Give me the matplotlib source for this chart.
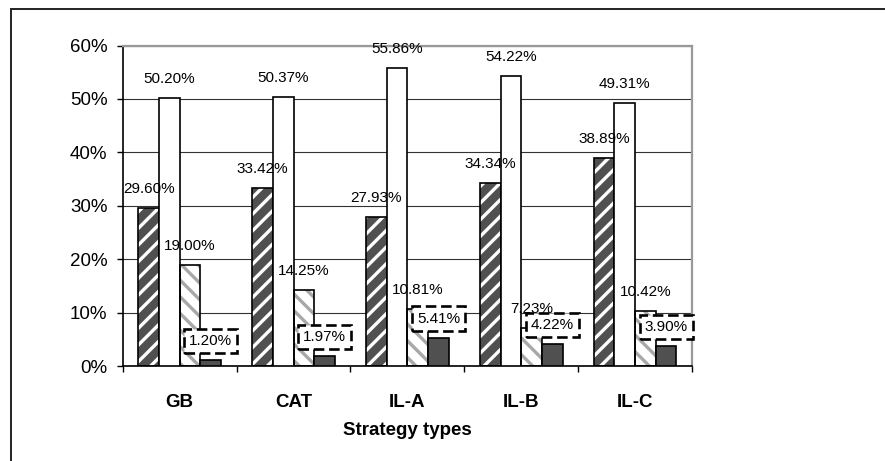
import numpy as np
import matplotlib.pyplot as plt
from matplotlib.patches import Rectangle

plt.rcParams['font.family'] = ['Liberation Sans', 'DejaVu Sans']
plt.rcParams['hatch.linewidth'] = 2.4

categories = ['GB', 'CAT', 'IL-A', 'IL-B', 'IL-C']
hatched_dark = [29.60, 33.42, 27.93, 34.34, 38.89]
plain_white = [50.20, 50.37, 55.86, 54.22, 49.31]
hatched_light = [19.00, 14.25, 10.81, 7.23, 10.42]
solid_dark = [1.20, 1.97, 5.41, 4.22, 3.90]

fig = plt.figure(figsize=(8.85, 4.61), dpi=100)
ax = fig.add_axes([0.1387, 0.2050, 0.6432, 0.6963])

# outer frame (open to the right and bottom)
fig.add_artist(Rectangle((11 / 885, -0.1), 1.2, 1 - 9 / 461 + 0.1,
                         transform=fig.transFigure, fill=False,
                         edgecolor='#222222', linewidth=1.4))

x = np.arange(len(categories))
w = 1 / 5.5
dark = '#505050'

series = [
    (hatched_dark, dark, 'white', '//'),
    (plain_white, 'white', None, None),
    (hatched_light, 'white', '#a8a8a8', '\\\\'),
    (solid_dark, dark, None, None),
]

for i, (vals, face, hcol, hatch) in enumerate(series):
    pos = x + (i - 1.5) * w
    if hatch:
        ax.bar(pos, vals, w, color=face, edgecolor=hcol, hatch=hatch,
               linewidth=0, zorder=2)
    ax.bar(pos, vals, w, color=face if not hatch else 'none',
           edgecolor='black', linewidth=1.2, zorder=3)
    for px, v in zip(pos, vals):
        kw = {}
        if i == 3:
            kw['bbox'] = dict(boxstyle='square,pad=0.33', facecolor='white',
                              edgecolor='black', linewidth=1.9,
                              linestyle=(0, (4, 1.8)))
        ax.annotate(f'{v:.2f}%', (px, v), xytext=(0, 13.7),
                    textcoords='offset points', ha='center', va='center',
                    fontsize=11, zorder=5, **kw)

ax.set_xlim(-0.5, 4.5)
ax.set_ylim(0, 60)
ax.set_yticks(np.arange(0, 61, 10))
ax.set_yticklabels([f'{t}%' for t in range(0, 61, 10)], fontsize=13.5)
ax.yaxis.grid(True, color='#333333', linewidth=0.8, zorder=0)
ax.set_axisbelow(True)

ax.set_xticks(x)
ax.set_xticklabels(categories, fontsize=13.5, fontweight='bold')
ax.set_xticks(np.arange(-0.5, 5, 1), minor=True)
ax.tick_params(axis='x', which='major', length=0, pad=20)
ax.tick_params(axis='x', which='minor', length=4, width=1, direction='out')
ax.tick_params(axis='y', length=4, width=1, pad=7)

ax.set_xlabel('Strategy types', fontsize=13.5, fontweight='bold')
ax.xaxis.set_label_coords(0.5, -0.198)
ax.xaxis.label.set_va('center')

for s in ['left', 'bottom']:
    ax.spines[s].set_linewidth(1.2)
for s in ['top', 'right']:
    ax.spines[s].set_color('#999999')
    ax.spines[s].set_linewidth(1.6)

fig.savefig('out.png', dpi=100)
